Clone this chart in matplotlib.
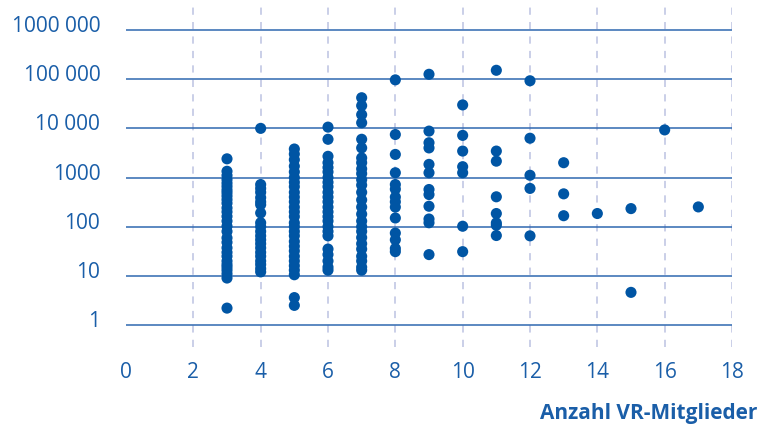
import numpy as np
import matplotlib.pyplot as plt
from matplotlib.transforms import ScaledTranslation

# values, one list per number of VR members
members_3 = [2400, 1340, 1100, 910, 770, 660, 560, 490, 420, 355, 300, 240, 200, 162,
             130, 102, 80, 59, 48, 37, 30, 25, 20, 17, 15, 13, 11, 9, 2.2]
members_4 = [10000, 720, 600, 500, 390, 320, 280, 190, 120, 100, 80, 65, 54, 45,
             37, 30, 25, 20, 17, 14, 12]
members_5 = [3800, 3000, 2300, 1700, 1300, 1000, 800, 650, 500, 400, 320, 250, 200,
             160, 120, 100, 80, 65, 50, 40, 32, 25, 20, 16, 13, 10.5, 3.6, 2.5]
members_6 = [10600, 6000, 2700, 2000, 1600, 1300, 1000, 800, 650, 500, 400, 320, 250,
             200, 160, 130, 100, 80, 65, 35, 27, 20, 15, 13]
members_7 = [42000, 29000, 19000, 13000, 6000, 4000, 2500, 2000, 1500, 1200, 900, 700,
             500, 350, 250, 180, 130, 100, 80, 60, 45, 35, 25, 20, 15, 13]
members_8 = [97000, 7500, 2950, 1250, 720, 580, 400, 320, 250, 150, 74, 54, 36, 31]
members_9 = [126000, 8800, 5100, 4000, 1850, 1250, 570, 450, 260, 143, 120, 27]
members_10 = [30000, 7200, 3450, 1660, 1250, 102, 31]
members_11 = [152000, 3450, 2150, 405, 185, 119, 107, 66]
members_12 = [93000, 6300, 1110, 600, 65]
members_13 = [2000, 465, 167]
members_14 = [185]
members_15 = [233, 4.6]
members_16 = [9300]
members_17 = [252]

columns = {3: members_3, 4: members_4, 5: members_5, 6: members_6, 7: members_7,
           8: members_8, 9: members_9, 10: members_10, 11: members_11, 12: members_12,
           13: members_13, 14: members_14, 15: members_15, 16: members_16, 17: members_17}

y_ticks = [1, 10, 100, 1000, 10000, 100000, 1000000]
y_tick_labels = ["1", "10", "100", "1000", "10 000", "100 000", "1000 000"]
x_ticks = list(range(0, 19, 2))
x_label = "Anzahl VR-Mitglieder"

BLUE_DOT = "#0055a4"
BLUE_TEXT = "#1a5ea8"
BLUE_LINE = "#2f68b0"
DASH = "#c6cbe6"

plt.rcParams["font.family"] = ["Open Sans", "DejaVu Sans"]

figure = plt.figure(figsize=(7.73, 4.32), dpi=100)
axes = figure.add_axes([126 / 773, 85 / 432, 606 / 773, 344 / 432])
axes.set_yscale("log")
axes.set_xlim(0, 18)
axes.set_ylim(10 ** -0.449, 10 ** 6.551)

for x in x_ticks[1:]:
    axes.axvline(x, color=DASH, linewidth=1.3, linestyle=(0, (4, 4)), zorder=1)
axes.hlines(y_ticks, 0, 18, color=BLUE_LINE, linewidth=1.1, zorder=2)

xs = np.concatenate([[k] * len(v) for k, v in columns.items()])
ys = np.concatenate([v for v in columns.values()])
axes.scatter(xs, ys, s=64, color=BLUE_DOT, edgecolors="none", zorder=3)

for side in axes.spines.values():
    side.set_visible(False)
axes.minorticks_off()
axes.set_yticks(y_ticks)
axes.set_yticklabels(y_tick_labels)
axes.set_xticks(x_ticks)
axes.tick_params(axis="both", length=0, labelsize=15, labelcolor=BLUE_TEXT)
axes.tick_params(axis="y", pad=18.5)
axes.tick_params(axis="x", pad=10.5)
offset = ScaledTranslation(0, 6 / 100, figure.dpi_scale_trans)
for label in axes.get_yticklabels():
    label.set_transform(label.get_transform() + offset)

figure.text(757 / 773, 1 - 413 / 432, x_label, ha="right", va="center",
            fontsize=15, fontweight="bold", color=BLUE_TEXT)

figure.savefig("out.png", dpi=100)
